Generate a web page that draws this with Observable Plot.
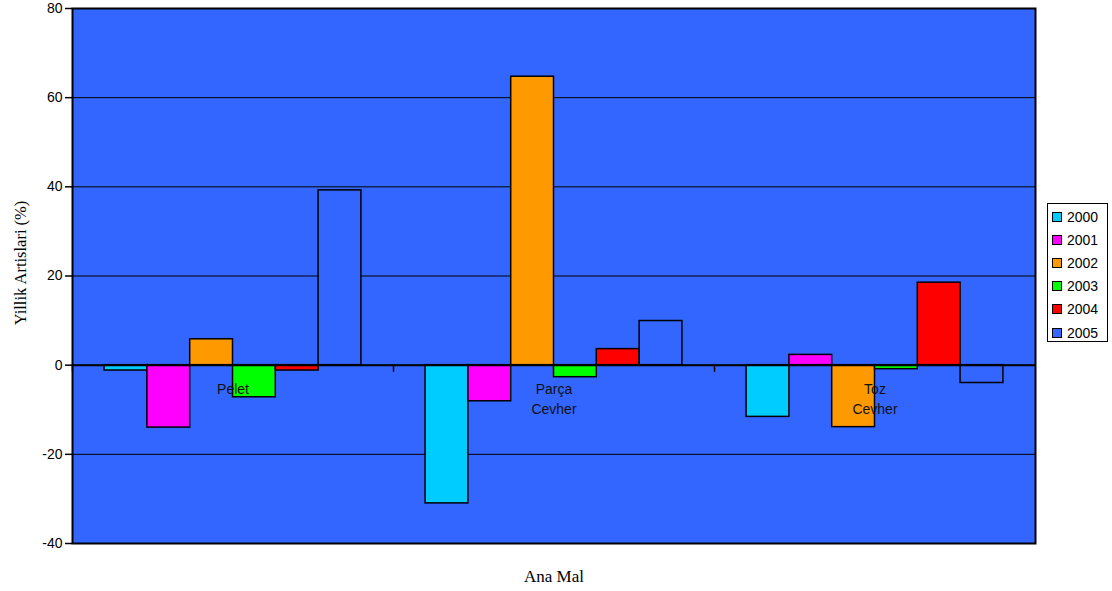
<!DOCTYPE html>
<html>
<head>
<meta charset="utf-8">
<script src="https://cdn.jsdelivr.net/npm/d3@7"></script>
<script src="https://cdn.jsdelivr.net/npm/@observablehq/plot@0.6"></script>
<style>
  html, body { margin: 0; padding: 0; background: #ffffff; }
  #chart { position: relative; width: 1112px; height: 591px; overflow: hidden; }
  #legend {
    position: absolute; left: 1047px; top: 203px; width: 59px; height: 137px;
    border: 1px solid #000; background: #fff; padding: 0;
    font-family: "Liberation Sans", Arial, sans-serif; font-size: 14px; color: #000;
  }
  .row { display: flex; align-items: center; height: 23.2px; padding-left: 4px; }
  .row:first-child { margin-top: 1px; }
  .sw { width: 8px; height: 8px; border: 1px solid #000; margin-right: 5px; box-sizing: content-box; }
  #ytitle {
    position: absolute; left: 21px; top: 263px; white-space: nowrap;
    transform: translate(-50%, -50%) rotate(-90deg);
    font-family: "Liberation Serif", "Times New Roman", serif; font-size: 16.5px; color: #000;
  }
</style>
</head>
<body>
<div id="chart"></div>
<script>
const categories = ["Pelet", "Parça\nCevher", "Toz\nCevher"];
const years = ["2000", "2001", "2002", "2003", "2004", "2005"];
const colors = ["#00CCFF", "#FF00FF", "#FF9900", "#00FF00", "#FF0000", "#3366FF"];
const v2000 = [-1.2, -31.0, -11.6];
const v2001 = [-14.0, -8.1, 2.3];
const v2002 = [5.8, 64.7, -13.9];
const v2003 = [-7.2, -2.7, -0.9];
const v2004 = [-1.2, 3.6, 18.5];
const v2005 = [39.2, 9.9, -4.0];
const yTicks = [-40, -20, 0, 20, 40, 60, 80];
const yTitle = "Yillik Artislari (%)";
const xTitle = "Ana Mal";

const series = [v2000, v2001, v2002, v2003, v2004, v2005];
const data = years.flatMap((yr, j) => categories.map((c, i) => ({cat: c, year: yr, value: series[j][i]})));

const tickShape = {draw(context, l) { context.moveTo(0, 0); context.lineTo(0, -l); }};

const plot = Plot.plot({
  width: 1112,
  height: 591,
  marginLeft: 72,
  marginRight: 77,
  marginTop: 8,
  marginBottom: 48,
  style: {fontFamily: "'Liberation Sans', Arial, sans-serif", fontSize: "14px", background: "transparent", color: "black"},
  fx: {domain: categories, padding: 0, round: false, axis: null, label: null},
  x: {domain: years, paddingInner: 0, paddingOuter: 0.75, round: false, axis: null},
  y: {domain: [-40, 80], axis: null},
  color: {domain: years, range: colors},
  marks: [
    Plot.frame({facet: "super", fill: "#3366FF"}),
    Plot.gridY(yTicks, {stroke: "black", strokeOpacity: 1, strokeWidth: 1}),
    Plot.barY(data, {fx: "cat", x: "year", y: "value", fill: "year", stroke: "black", strokeWidth: 1.5}),
    Plot.ruleY([0], {stroke: "black", strokeWidth: 2}),
    Plot.vector(categories, {fx: d => d, y: () => 0, frameAnchor: "left", length: 6, rotate: 180, anchor: "start", shape: tickShape, stroke: "black", strokeWidth: 1.5}),
    Plot.text(categories, {fx: d => d, y: () => 0, text: d => d, lineAnchor: "top", dy: 14, lineHeight: 1.45, fontSize: 14, fill: "#111"}),
    Plot.frame({facet: "super", stroke: "black", strokeWidth: 2}),
    Plot.axisY(yTicks, {tickSize: 7, tickPadding: 3, label: null, fontSize: 14, strokeWidth: 1.5, tickFormat: d => String(d)}),
    Plot.axisFx({ticks: [], anchor: "bottom", label: xTitle, labelAnchor: "center", labelArrow: "none", labelOffset: 38, fontFamily: "'Liberation Serif', 'Times New Roman', serif", fontSize: 17})
  ]
});

const chart = document.getElementById("chart");
chart.appendChild(plot);

const yt = document.createElement("div");
yt.id = "ytitle";
yt.textContent = yTitle;
chart.appendChild(yt);

const legend = document.createElement("div");
legend.id = "legend";
years.forEach((yr, j) => {
  const row = document.createElement("div");
  row.className = "row";
  const sw = document.createElement("span");
  sw.className = "sw";
  sw.style.background = colors[j];
  const t = document.createElement("span");
  t.textContent = yr;
  row.appendChild(sw);
  row.appendChild(t);
  legend.appendChild(row);
});
chart.appendChild(legend);
</script>
</body>
</html>
